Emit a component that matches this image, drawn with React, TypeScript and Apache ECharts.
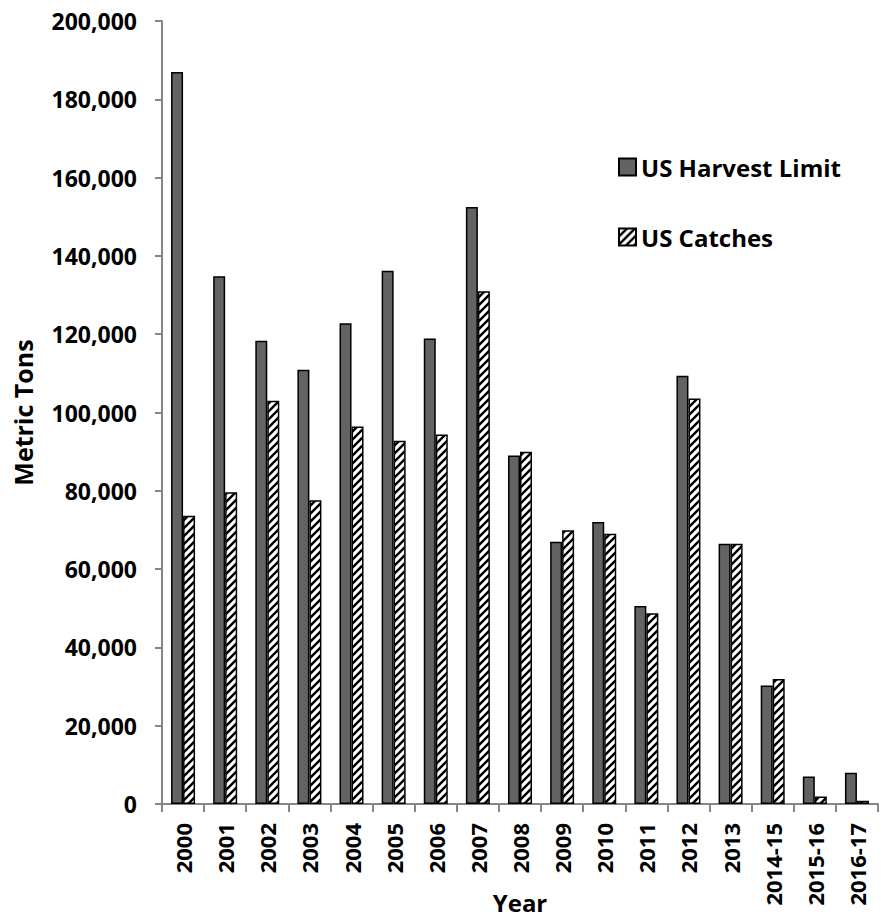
import React, { useEffect, useRef } from "react";
import * as echarts from "echarts";

const years = [
  "2000", "2001", "2002", "2003", "2004", "2005", "2006", "2007", "2008",
  "2009", "2010", "2011", "2012", "2013", "2014-15", "2015-16", "2016-17",
];
const harvestLimit = [
  187000, 134800, 118300, 110900, 122800, 136200, 118900, 152500, 89000,
  67000, 72000, 50600, 109400, 66500, 30300, 7000, 8000,
];
const catches = [
  73600, 79600, 103000, 77600, 96400, 92800, 94400, 131000, 90000,
  69900, 69000, 48700, 103600, 66500, 31900, 1900, 800,
];
const seriesNames = ["US Harvest Limit", "US Catches"];
const axisNames = { x: "Year", y: "Metric Tons" };

const FONT = "'Open Sans', 'Noto Sans', sans-serif";

function makeStripes(): HTMLCanvasElement {
  const s = 8;
  const c = document.createElement("canvas");
  c.width = s;
  c.height = s;
  const ctx = c.getContext("2d")!;
  ctx.fillStyle = "#ffffff";
  ctx.fillRect(0, 0, s, s);
  ctx.strokeStyle = "#000000";
  ctx.lineWidth = 2.4;
  ctx.beginPath();
  for (const k of [0, s, 2 * s]) {
    ctx.moveTo(-2, k + 2);
    ctx.lineTo(k + 2, -2);
  }
  ctx.stroke();
  return c;
}

export default function App() {
  const ref = useRef<HTMLDivElement>(null);
  useEffect(() => {
    if (!ref.current) return;
    const chart = echarts.init(ref.current, undefined, { renderer: "svg", width: 881, height: 918 });
    const stripe = makeStripes();
    const axisGrey = "#868686";
    chart.setOption({
      animation: false,
      backgroundColor: "#ffffff",
      textStyle: { fontFamily: FONT },
      grid: {
        left: 162,
        right: 3,
        top: 21,
        bottom: 114,
        containLabel: false,
        outerBoundsMode: "none",
      },
      legend: {
        orient: "vertical",
        left: 613,
        top: 148,
        itemWidth: 17,
        itemHeight: 17,
        itemGap: 42,
        icon: "rect",
        textStyle: {
          fontFamily: FONT,
          fontSize: 24,
          fontWeight: "bold",
          color: "#000",
          lineHeight: 28,
          padding: [0, 0, 0, 0],
        },
        data: seriesNames,
      },
      xAxis: {
        type: "category",
        data: years,
        name: axisNames.x,
        nameLocation: "middle",
        nameGap: 86,
        nameMoveOverlap: false,
        nameTextStyle: {
          fontFamily: FONT,
          fontSize: 24,
          lineHeight: 24,
          fontWeight: "bold",
          color: "#000",
        },
        axisLine: { lineStyle: { color: axisGrey, width: 2 } },
        axisTick: { show: true, length: 8, lineStyle: { color: axisGrey, width: 2 } },
        axisLabel: {
          rotate: 90,
          margin: 19,
          fontFamily: FONT,
          fontSize: 22,
          fontWeight: "bold",
          color: "#000",
          interval: 0,
        },
        splitLine: { show: false },
      },
      yAxis: {
        type: "value",
        min: 0,
        max: 200000,
        interval: 20000,
        name: axisNames.y,
        nameLocation: "middle",
        nameGap: 127,
        nameMoveOverlap: false,
        nameTextStyle: { fontFamily: FONT, fontSize: 25, fontWeight: "bold", color: "#000" },
        axisLine: { show: true, lineStyle: { color: axisGrey, width: 2 } },
        axisTick: { show: true, length: 7, lineStyle: { color: axisGrey, width: 2 } },
        axisLabel: {
          margin: 25,
          fontFamily: FONT,
          fontSize: 23,
          fontWeight: "bold",
          color: "#000",
          formatter: (v: number) => v.toLocaleString("en-US"),
        },
        splitLine: { show: false },
      },
      series: [
        {
          name: seriesNames[0],
          type: "bar",
          data: harvestLimit,
          barWidth: 12,
          barGap: "0%",
          itemStyle: { color: "#636363", borderColor: "#000", borderWidth: 1.5 },
        },
        {
          name: seriesNames[1],
          type: "bar",
          data: catches,
          barWidth: 12,
          barGap: "0%",
          itemStyle: {
            color: { image: stripe, repeat: "repeat" },
            borderColor: "#000",
            borderWidth: 1.5,
          },
        },
      ],
    });
    return () => chart.dispose();
  }, []);
  return (
    <div
      ref={ref}
      style={{ position: "absolute", left: 0, top: 0, width: 881, height: 918, overflow: "hidden" }}
    />
  );
}
